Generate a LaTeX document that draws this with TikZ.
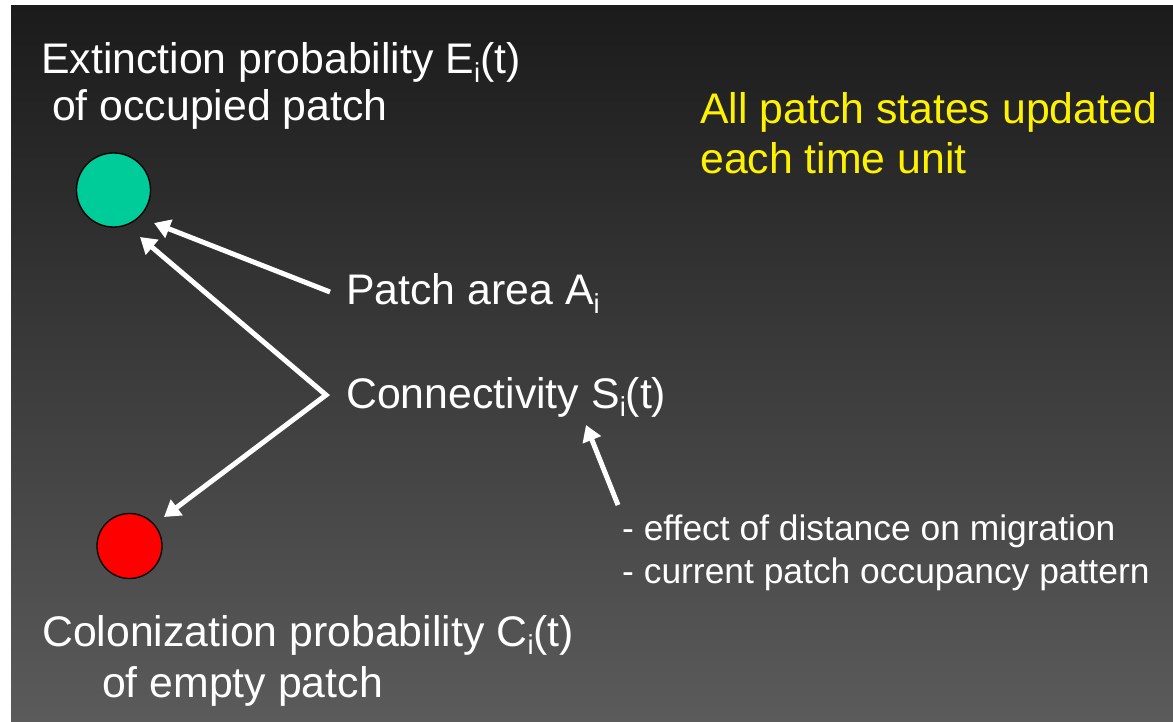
\documentclass[tikz,border=0pt]{standalone}
\usepackage{fontspec}
\setmainfont{Liberation Sans}
\usetikzlibrary{arrows.meta}
\definecolor{patchgreen}{HTML}{00CC99}
\definecolor{bgtop}{HTML}{1B1B1B}
\definecolor{bgbot}{HTML}{5B5B5B}
\newcommand{\mysub}[1]{\raisebox{-0.2em}{\scalebox{0.64}{#1}}}
\tikzset{
  big/.style={anchor=base west, inner sep=0pt, text=white, font=\fontsize{42.8}{50}\selectfont},
  note/.style={big, text=yellow},
  small/.style={anchor=base west, inner sep=0pt, text=white, font=\fontsize{35.4}{42}\selectfont},
  patch/.style={circle, draw=black, line width=1.3pt, inner sep=0pt},
  arr/.style={draw=white, line width=5pt, -{Triangle[length=16pt,width=19pt]}},
  darr/.style={draw=white, line width=5pt, {Triangle[length=16pt,width=19pt]}-{Triangle[length=16pt,width=19pt]}, line join=miter}
}
\begin{document}
\begin{tikzpicture}[x=1pt,y=-1pt]
\useasboundingbox (0,0) rectangle (1173,722);
\fill[white] (0,0) rectangle (1173,722);
\shade[top color=bgtop, bottom color=bgbot] (11,6) rectangle (1173,722);

% patches
\node[patch, fill=patchgreen, minimum size=74pt] (green) at (113.5,190) {};
\node[patch, fill=red, minimum size=65pt] (red) at (129.5,546) {};

% texts
\node[big] (ext1) at (41,74) {Extinction probability E\mysub{i}(t)};
\node[big] (ext2) at (52,121) {of occupied patch};
\node[note] (all1) at (700,124) {All patch states updated};
\node[note] (all2) at (700,174) {each time unit};
\node[big] (area) at (346,305) {Patch area A\mysub{i}};
\node[big] (conn) at (346,408) {Connectivity S\mysub{i}(t)};
\node[small] (eff) at (622,540) {- effect of distance on migration};
\node[small] (cur) at (622,583) {- current patch occupancy pattern};
\node[big] (col1) at (42,646) {Colonization probability C\mysub{i}(t)};
\node[big] (col2) at (102,697) {of empty patch};

% connector points
\coordinate (areaTail) at (330,292);
\coordinate (areaTip) at (154,223);
\coordinate (connCorner) at (326,395);
\coordinate (connTipG) at (140,237);
\coordinate (connTipR) at (164,517);
\coordinate (effTail) at (618,505);
\coordinate (effTip) at (586,425);

\draw[arr] (areaTail) -- (areaTip);
\draw[darr] (connTipG) -- (connCorner) -- (connTipR);
\draw[arr] (effTail) -- (effTip);
\end{tikzpicture}
\end{document}
